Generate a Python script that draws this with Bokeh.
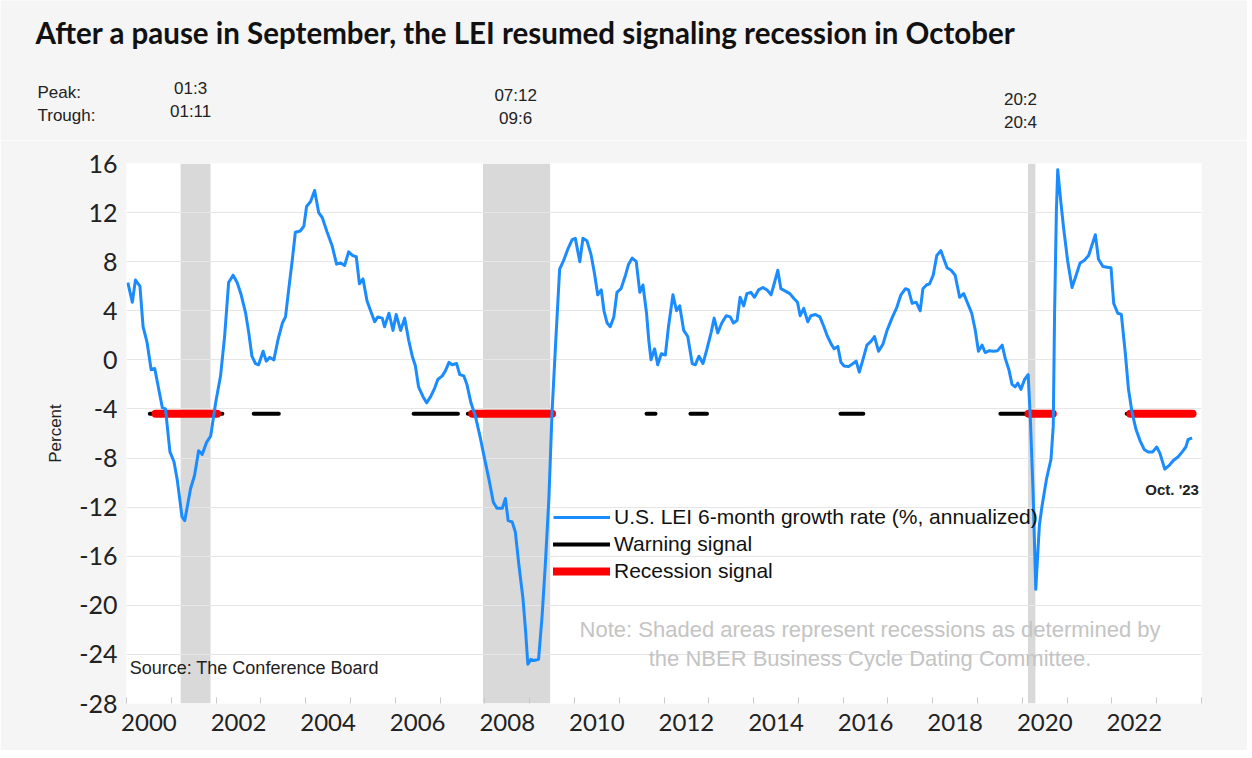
from bokeh.plotting import figure
from bokeh.layouts import column
from bokeh.models import (Range1d, FixedTicker, CustomJSTickFormatter,
                          Legend, LegendItem)
from bokeh.core.properties import value
from bokeh.embed import file_html
from bokeh.resources import INLINE

# ---------------- data ----------------
lei_dates = [
    2000.03, 2000.13, 2000.20, 2000.30, 2000.37, 2000.46, 2000.55, 2000.63, 2000.72, 2000.80,
    2000.87, 2000.97, 2001.06, 2001.13, 2001.24, 2001.30, 2001.43, 2001.52, 2001.61, 2001.69,
    2001.79, 2001.88, 2001.99, 2002.10, 2002.19, 2002.28, 2002.38, 2002.47, 2002.56, 2002.66,
    2002.73, 2002.80, 2002.88, 2002.95, 2003.05, 2003.12, 2003.20, 2003.29, 2003.38, 2003.48,
    2003.55, 2003.62, 2003.70, 2003.77, 2003.88, 2003.96, 2004.02, 2004.11, 2004.20, 2004.29,
    2004.37, 2004.48, 2004.59, 2004.69, 2004.78, 2004.87, 2004.96, 2005.05, 2005.13, 2005.20,
    2005.28, 2005.37, 2005.45, 2005.54, 2005.61, 2005.71, 2005.76, 2005.86, 2005.95, 2006.02,
    2006.12, 2006.21, 2006.30, 2006.38, 2006.45, 2006.52, 2006.62, 2006.70, 2006.79, 2006.88,
    2006.95, 2007.05, 2007.12, 2007.20, 2007.27, 2007.37, 2007.44, 2007.53, 2007.60, 2007.69,
    2007.79, 2007.89, 2007.98, 2008.09, 2008.19, 2008.27, 2008.39, 2008.46, 2008.52, 2008.61,
    2008.68, 2008.76, 2008.85, 2008.91, 2008.96, 2009.03, 2009.10, 2009.20, 2009.28, 2009.35,
    2009.43, 2009.50, 2009.58, 2009.67, 2009.76, 2009.85, 2009.95, 2010.02, 2010.12, 2010.19,
    2010.28, 2010.37, 2010.45, 2010.52, 2010.60, 2010.66, 2010.73, 2010.80, 2010.88, 2010.95,
    2011.04, 2011.14, 2011.21, 2011.29, 2011.38, 2011.46, 2011.53, 2011.61, 2011.66, 2011.71,
    2011.79, 2011.86, 2011.94, 2012.03, 2012.10, 2012.20, 2012.28, 2012.35, 2012.44, 2012.53,
    2012.63, 2012.70, 2012.78, 2012.87, 2012.96, 2013.05, 2013.12, 2013.20, 2013.29, 2013.39,
    2013.48, 2013.55, 2013.63, 2013.70, 2013.78, 2013.85, 2013.94, 2014.02, 2014.11, 2014.21,
    2014.30, 2014.39, 2014.46, 2014.54, 2014.61, 2014.71, 2014.81, 2014.90, 2014.98, 2015.04,
    2015.12, 2015.21, 2015.28, 2015.38, 2015.48, 2015.57, 2015.64, 2015.73, 2015.80, 2015.88,
    2015.95, 2016.02, 2016.12, 2016.22, 2016.29, 2016.36, 2016.44, 2016.53, 2016.62, 2016.70,
    2016.79, 2016.89, 2016.98, 2017.09, 2017.20, 2017.29, 2017.39, 2017.46, 2017.54, 2017.63,
    2017.72, 2017.78, 2017.86, 2017.93, 2018.01, 2018.09, 2018.18, 2018.26, 2018.32, 2018.41,
    2018.50, 2018.60, 2018.69, 2018.78, 2018.87, 2018.95, 2019.02, 2019.10, 2019.17, 2019.27,
    2019.36, 2019.45, 2019.55, 2019.62, 2019.70, 2019.77, 2019.84, 2019.90, 2019.97, 2020.05,
    2020.13, 2020.18, 2020.24, 2020.30, 2020.38, 2020.44, 2020.54, 2020.64, 2020.69, 2020.72,
    2020.76, 2020.79, 2020.85, 2020.92, 2021.01, 2021.11, 2021.21, 2021.29, 2021.38, 2021.48,
    2021.55, 2021.63, 2021.70, 2021.80, 2021.89, 2021.98, 2022.04, 2022.13, 2022.21, 2022.30,
    2022.37, 2022.45, 2022.54, 2022.63, 2022.72, 2022.81, 2022.91, 2023.00, 2023.07, 2023.18,
    2023.28, 2023.37, 2023.48, 2023.57, 2023.65, 2023.70, 2023.79,
]
lei_values = [
    6.3, 4.7, 6.5, 6.0, 2.7, 1.4, -0.8, -0.7, -2.4, -3.9,
    -4.0, -7.5, -8.3, -9.7, -12.8, -13.1, -10.5, -9.4, -7.4, -7.7,
    -6.7, -6.2, -3.5, -1.3, 1.9, 6.3, 6.9, 6.3, 5.3, 3.8,
    2.2, 0.3, -0.3, -0.4, 0.7, -0.1, 0.2, 0.0, 1.6, 3.0,
    3.5, 5.7, 8.1, 10.4, 10.5, 10.9, 12.5, 12.9, 13.8, 12.0,
    11.6, 10.4, 9.3, 7.8, 7.9, 7.7, 8.8, 8.5, 8.4, 6.2,
    6.6, 4.8, 4.0, 3.1, 3.5, 3.4, 2.7, 3.8, 2.4, 3.7,
    2.4, 3.4, 1.6, 0.3, -0.5, -2.2, -3.0, -3.5, -3.0, -2.3,
    -1.6, -1.3, -0.9, -0.2, -0.4, -0.3, -1.2, -1.3, -2.0, -3.5,
    -4.6, -6.2, -7.8, -9.7, -11.6, -12.1, -12.1, -11.3, -13.1, -13.2,
    -14.0, -16.7, -19.4, -22.1, -24.8, -24.4, -24.5, -24.4, -20.8, -16.7,
    -11.3, -4.3, 1.3, 7.4, 8.1, 9.0, 9.8, 9.9, 8.0, 9.9,
    9.7, 8.6, 7.0, 5.3, 5.7, 4.0, 3.0, 2.7, 3.5, 5.5,
    5.8, 6.9, 7.8, 8.3, 8.0, 5.5, 6.1, 3.8, 1.6, 0.0,
    0.9, -0.4, 0.5, 0.4, 2.7, 5.3, 4.0, 4.4, 2.4, 1.9,
    -0.3, -0.4, 0.3, -0.3, 0.9, 2.2, 3.4, 2.2, 3.0, 3.6,
    3.5, 3.0, 3.2, 5.1, 4.4, 5.4, 5.5, 5.1, 5.7, 5.9,
    5.7, 5.3, 6.2, 7.3, 5.8, 5.6, 5.4, 5.0, 4.7, 3.6,
    4.2, 3.1, 3.6, 3.7, 3.5, 2.7, 2.0, 1.3, 0.9, 1.1,
    -0.2, -0.5, -0.55, -0.3, -0.1, -1.0, 0.0, 1.2, 1.5, 1.9,
    0.7, 1.3, 2.4, 3.4, 4.3, 5.3, 5.8, 5.7, 4.6, 4.7,
    4.0, 5.8, 6.1, 6.2, 6.9, 8.5, 8.9, 8.1, 7.5, 7.3,
    6.9, 5.1, 5.4, 4.6, 3.8, 2.4, 0.7, 1.2, 0.6, 0.75,
    0.7, 0.75, 1.2, 0.1, -0.8, -2.0, -2.2, -1.9, -2.4, -1.6,
    -1.2, -4.9, -10.8, -18.7, -13.5, -11.9, -9.7, -8.1, -5.4, 3.8,
    12.1, 15.5, 13.2, 10.8, 8.1, 5.9, 7.0, 7.9, 8.1, 8.5,
    9.3, 10.2, 8.2, 7.6, 7.55, 7.5, 4.6, 3.8, 3.7, 0.5,
    -2.4, -4.3, -5.7, -6.6, -7.3, -7.5, -7.5, -7.1, -7.6, -8.9,
    -8.6, -8.2, -7.9, -7.5, -7.1, -6.5, -6.35,
]

# NBER business-cycle peaks and troughs (year, month)
peak_year = [2001, 2007, 2020]
peak_month = [3, 12, 2]
trough_year = [2001, 2009, 2020]
trough_month = [11, 6, 4]
peak_labels = ["01:3", "07:12", "20:2"]
trough_labels = ["01:11", "09:6", "20:4"]

# signal periods (decimal years)
warning_start = [2000.52, 2002.02, 2002.84, 2006.41, 2007.62, 2011.61, 2012.59, 2015.94, 2019.51, 2022.33]
warning_end = [2000.65, 2002.14, 2003.40, 2007.40, 2007.72, 2011.81, 2012.96, 2016.45, 2020.14, 2022.41]
recession_start = [2000.65, 2007.72, 2020.14, 2022.41]
recession_end = [2002.02, 2009.50, 2020.68, 2023.80]
signal_level = -4.4

y_ticks = list(range(-28, 17, 4))
labeled_years = list(range(2000, 2023, 2))
year_bounds = list(range(2000, 2025))

title_text = "After a pause in September, the LEI resumed signaling recession in October"
legend_labels = ["U.S. LEI 6-month growth rate (%, annualized)", "Warning signal", "Recession signal"]
note_lines = ["Note: Shaded areas represent recessions as determined by",
              "the NBER Business Cycle Dating Committee."]
source_text = "Source: The Conference Board"
last_label = "Oct. '23"

# ---------------- layout constants ----------------
BG = "#f5f5f5"
W = 1247
TOP_H = 140
MAIN_H = 610
BL, BR, BT, BB = 126, 46, 23, 47
X0, X1 = 2000, 2024
ppy = (W - BL - BR) / (X1 - X0)          # pixels per year

# ---------------- header figure (title, peak/trough) ----------------
top = figure(width=W, height=TOP_H, output_backend="svg", toolbar_location=None,
             x_range=Range1d(X0 - BL / ppy, X1 + BR / ppy), y_range=Range1d(TOP_H, 0),
             x_axis_type=None, y_axis_type=None,
             min_border_left=0, min_border_right=0, min_border_top=0, min_border_bottom=0,
             background_fill_color=BG, border_fill_color=BG, outline_line_color=None)
top.frame_align = False
top.grid.visible = False
top.title.visible = False
left_x = X0 - BL / ppy
top.text(x=[left_x + 35 / ppy], y=[32], text=[title_text], text_font=value("Lato"),
         text_font_size="29.5px", text_font_style="bold", text_color="#111111",
         text_baseline="middle", text_align="left")
top.text(x=[left_x + 37 / ppy] * 2, y=[92, 115], text=["Peak:", "Trough:"],
         text_font=value("Liberation Sans"), text_font_size="17px", text_color="#222222",
         text_baseline="middle", text_align="left")

rec_left = [y + (m - 0.5) / 12 for y, m in zip(peak_year, peak_month)]
rec_right = [y + (m - 0.5) / 12 for y, m in zip(trough_year, trough_month)]
label_shift = [-0.11, -0.02, -0.25]
label_y = [88, 95, 99]
for l, r, pk, tr, dx, ly in zip(rec_left, rec_right, peak_labels, trough_labels, label_shift, label_y):
    mid = (l + r) / 2 + dx
    top.text(x=[mid, mid], y=[ly, ly + 23], text=[pk, tr], text_font=value("Liberation Sans"),
             text_font_size="17px", text_color="#222222", text_baseline="middle",
             text_align="center")

# ---------------- main figure ----------------
p = figure(width=W, height=MAIN_H, output_backend="svg", toolbar_location=None,
           x_range=Range1d(X0, X1), y_range=Range1d(-28, 16),
           min_border_left=BL, min_border_right=BR, min_border_top=BT, min_border_bottom=BB,
           background_fill_color="white", border_fill_color=BG, outline_line_color=None)
p.frame_align = False
p.title.visible = False

# recession shading
p.quad(left=rec_left, right=rec_right, bottom=-28, top=16, fill_color="#d9d9d9",
       line_color=None, level="image")

# note / source
note_x = 2016.6
p.text(x=[note_x, note_x], y=[-22.0, -24.35], text=note_lines, text_align="center",
       text_baseline="middle", text_font=value("Liberation Sans"), text_font_size="22px",
       text_color="#c4c4c4")
p.text(x=[2000.07], y=[-25.1], text=[source_text], text_align="left", text_baseline="middle",
       text_font=value("Liberation Sans"), text_font_size="18px", text_color="#222222")

# signals
warn_r = p.segment(x0=warning_start, x1=warning_end, y0=signal_level, y1=signal_level,
                   line_color="black", line_width=4, line_cap="round")
rec_r = p.segment(x0=recession_start, x1=recession_end, y0=signal_level, y1=signal_level,
                  line_color="#ff0000", line_width=8, line_cap="round")

# LEI line
lei_r = p.line(lei_dates, lei_values, line_color="#1a8cff", line_width=3, line_join="round")

p.text(x=[lei_dates[-1]], y=[-10.6], x_offset=-20, text=[last_label], text_align="center",
       text_baseline="middle", text_font=value("Liberation Sans"), text_font_size="15px",
       text_font_style="bold", text_color="#222222")

# legend
legend = Legend(items=[LegendItem(label=legend_labels[0], renderers=[lei_r]),
                       LegendItem(label=legend_labels[1], renderers=[warn_r]),
                       LegendItem(label=legend_labels[2], renderers=[rec_r])],
                location=(427, 120), orientation="vertical", background_fill_alpha=0,
                border_line_color=None, padding=0, margin=0, spacing=3,
                glyph_width=57, glyph_height=20, label_height=20, label_standoff=4,
                label_text_font="Liberation Sans", label_text_font_size="21px",
                label_text_color="#111111")
p.add_layout(legend, "center")

# axes
p.yaxis.ticker = FixedTicker(ticks=y_ticks)
p.yaxis.formatter = CustomJSTickFormatter(code="return tick.toFixed(0);")
p.yaxis.major_tick_line_color = None
p.yaxis.minor_tick_line_color = None
p.yaxis.axis_line_color = None
p.yaxis.major_label_text_font = "Lato"
p.yaxis.major_label_text_font_size = "25px"
p.yaxis.major_label_text_color = "#222222"
p.yaxis.major_label_standoff = 3
p.yaxis.axis_label = "Percent"
p.yaxis.axis_label_text_font = "Liberation Sans"
p.yaxis.axis_label_text_font_size = "17px"
p.yaxis.axis_label_text_font_style = "normal"
p.yaxis.axis_label_text_color = "#222222"
p.yaxis.axis_label_standoff = 11

p.xaxis.ticker = FixedTicker(ticks=[y + 0.5 for y in labeled_years], minor_ticks=year_bounds)
p.xaxis.formatter = CustomJSTickFormatter(code="return String(Math.floor(tick));")
p.xaxis.major_tick_in = 0
p.xaxis.major_tick_out = 0
p.xaxis.minor_tick_in = 6
p.xaxis.minor_tick_out = 0
p.xaxis.minor_tick_line_color = "#c8c8c8"
p.xaxis.axis_line_color = None
p.xaxis.major_label_text_font = "Lato"
p.xaxis.major_label_text_font_size = "24px"
p.xaxis.major_label_text_color = "#222222"
p.xaxis.major_label_standoff = 10

p.xgrid.grid_line_color = None
p.ygrid.ticker = FixedTicker(ticks=y_ticks)
p.ygrid.grid_line_color = "#e6e6e6"
p.ygrid.grid_line_width = 1.2

layout = column(top, p, spacing=0)
open("out.html", "w").write(file_html(layout, INLINE))
